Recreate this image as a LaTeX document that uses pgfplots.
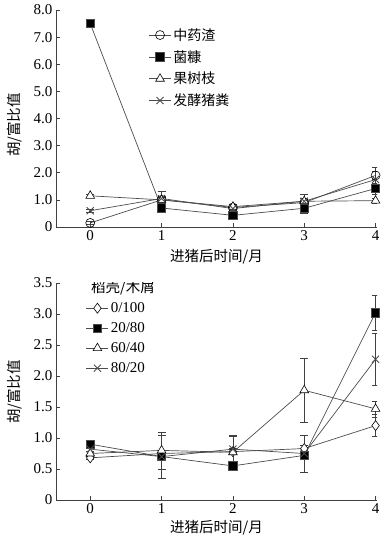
\documentclass[border=0pt]{standalone}
\usepackage{pgfplots}
\pgfplotsset{compat=1.18}
\usepackage{fontspec}
\setmainfont{Liberation Serif}
\newfontfamily\cjk{Noto Sans CJK SC}

\pgfplotsset{
  myaxis/.style={
    scale only axis, width=321pt, height=217pt,
    xmin=-0.48, xmax=4.02,
    axis x line*=bottom, axis y line*=left,
    tick align=inside,
    xtick={0,1,2,3,4},
    major tick length=4pt,
    tick style={black!75, line width=0.6pt},
    axis line style={black!75, line width=0.8pt},
    ticklabel style={font=\fontsize{15}{15}\selectfont},
    /pgf/number format/assume math mode=true,
    label style={font=\cjk\fontsize{14.5}{14.5}\selectfont},
    legend cell align=left,
    legend image code/.code={\draw[mark repeat=2,mark phase=2] plot coordinates {(0pt,0pt)(11pt,0pt)(22pt,0pt)};},
  },
  ser/.style={black!70, line width=0.7pt,
      mark options={solid, draw=black, fill=white, line width=0.6pt},
      error bars/y dir=both, error bars/y explicit,
      error bars/error mark options={rotate=90, mark size=4pt, black!75, line width=0.6pt},
      error bars/error bar style={black!75, line width=0.6pt}},
}

\begin{document}
\begin{tikzpicture}
\useasboundingbox (0,0) rectangle (391pt,541pt);
% ---------- top panel ----------
\begin{axis}[myaxis,
  at={(56pt,314pt)}, anchor=south west,
  ymin=0, ymax=8,
  ytick={0,1,2,3,4,5,6,7,8},
  yticklabels={0,1.0,2.0,3.0,4.0,5.0,6.0,7.0,8.0},
  xlabel={进猪后时间/月}, ylabel={胡/富比值},
  xlabel style={at={(axis description cs:0.5,-0.138)}, anchor=center},
  ylabel style={at={(axis description cs:-0.128,0.47)}, anchor=center},
  legend style={at={(axis description cs:0.285,0.93)}, anchor=north west,
    draw=none, fill=none, font=\cjk\fontsize{14}{14}\selectfont,
    row sep=4.5pt, inner sep=1pt},
]
\addplot[ser, mark=o, mark size=4.5pt] coordinates {
 (0,0.15) +- (0,0.05)
 (1,1.0) +- (0,0.15)
 (2,0.72) +- (0,0.1)
 (3,0.9) +- (0,0.15)
 (4,1.9) +- (0,0.15)};
\addlegendentry{中药渣}
\addplot[ser, mark=square*, mark size=4.2pt, mark options={fill=black}] coordinates {
 (0,7.5) +- (0,0.05)
 (1,0.7) +- (0,0.1)
 (2,0.43) +- (0,0.1)
 (3,0.69) +- (0,0.2)
 (4,1.42) +- (0,0.2)};
\addlegendentry{菌糠}
\addplot[ser, mark=triangle*, mark size=5pt] coordinates {
 (0,1.15) +- (0,0.05)
 (1,1.0) +- (0,0.1)
 (2,0.75) +- (0,0.1)
 (3,0.95) +- (0,0.1)
 (4,0.97) +- (0,0.1)};
\addlegendentry{果树枝}
\addplot[ser, mark=x, mark size=5pt, mark options={line width=0.9pt}] coordinates {
 (0,0.6) +- (0,0.05)
 (1,1.05) +- (0,0.25)
 (2,0.68) +- (0,0.12)
 (3,0.95) +- (0,0.25)
 (4,1.75) +- (0,0.45)};
\addlegendentry{发酵猪粪}
\end{axis}
% ---------- bottom panel ----------
\begin{axis}[myaxis,
  at={(56pt,41pt)}, anchor=south west,
  ymin=0, ymax=3.5,
  ytick={0,0.5,1,1.5,2,2.5,3,3.5},
  yticklabels={0,0.5,1.0,1.5,2.0,2.5,3.0,3.5},
  xlabel={进猪后时间/月}, ylabel={胡/富比值},
  xlabel style={at={(axis description cs:0.5,-0.129)}, anchor=center},
  ylabel style={at={(axis description cs:-0.128,0.498)}, anchor=center},
  legend style={at={(axis description cs:0.09,0.925)}, anchor=north west,
    draw=none, fill=none, font=\fontsize{15}{15}\selectfont,
    row sep=4.5pt, inner sep=1pt},
]
\node[font=\cjk\fontsize{14.5}{14.5}\selectfont, anchor=center] at (rel axis cs:0.209,0.977) {稻壳/木屑};
\addplot[ser, mark=diamond*, mark size=5pt] coordinates {
 (0,0.68) +- (0,0.03)
 (1,0.75) +- (0,0.05)
 (2,0.78) +- (0,0.05)
 (3,0.83) +- (0,0.05)
 (4,1.2) +- (0,0.18)};
\addlegendentry{0/100}
\addplot[ser, mark=square*, mark size=4.2pt, mark options={fill=black}] coordinates {
 (0,0.9) +- (0,0.03)
 (1,0.7) +- (0,0.05)
 (2,0.55) +- (0,0.03)
 (3,0.72) +- (0,0.05)
 (4,3.02) +- (0,0.28)};
\addlegendentry{20/80}
\addplot[ser, mark=triangle*, mark size=5pt] coordinates {
 (0,0.75) +- (0,0.03)
 (1,0.8) +- (0,0.3)
 (2,0.77) +- (0,0.27)
 (3,1.77) +- (0,0.52)
 (4,1.47) +- (0,0.13)};
\addlegendentry{60/40}
\addplot[ser, mark=x, mark size=5pt, mark options={line width=0.9pt}] coordinates {
 (0,0.82) +- (0,0.03)
 (1,0.7) +- (0,0.35)
 (2,0.82) +- (0,0.2)
 (3,0.75) +- (0,0.3)
 (4,2.27) +- (0,0.42)};
\addlegendentry{80/20}
\end{axis}
\end{tikzpicture}
\end{document}
